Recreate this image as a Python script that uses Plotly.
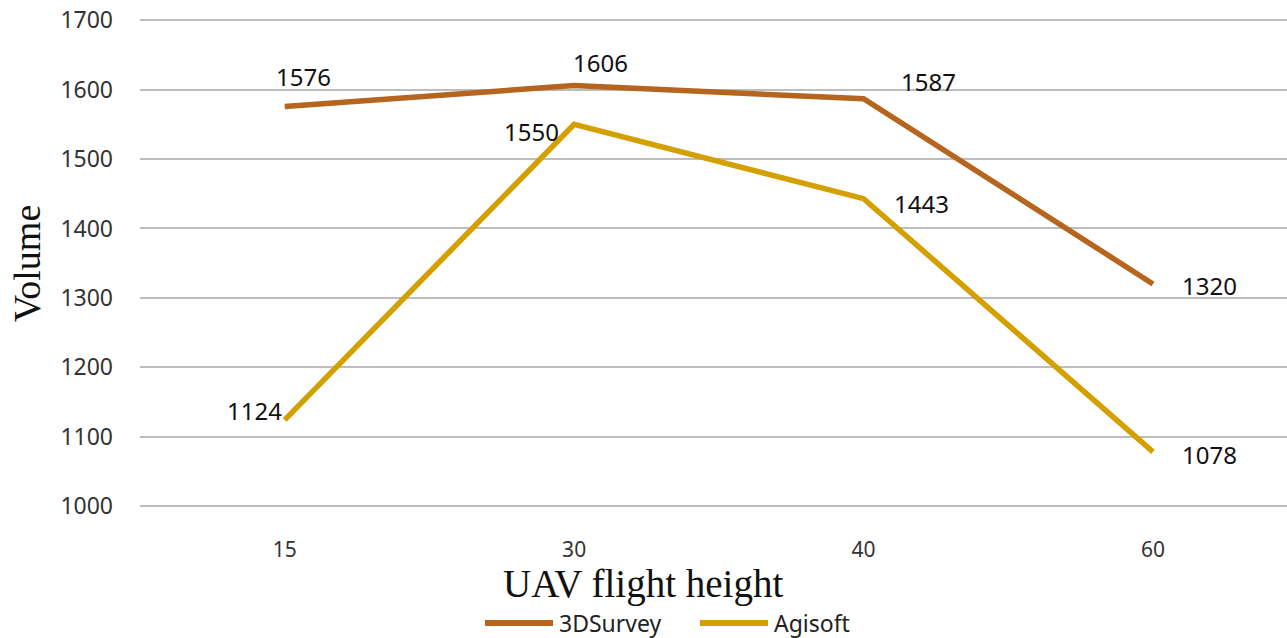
import plotly.graph_objects as go

# Flight heights (m) and computed volumes for each software
heights = ["15", "30", "40", "60"]
survey3d = [1576, 1606, 1587, 1320]
agisoft = [1124, 1550, 1443, 1078]
y_ticks = [1000, 1100, 1200, 1300, 1400, 1500, 1600, 1700]

c_survey = "#B5651D"
c_agi = "#D4A000"
sans = "Noto Sans, Open Sans, sans-serif"
serif = "Liberation Serif, Times New Roman, serif"

fig = go.Figure()
fig.add_trace(go.Scatter(x=heights, y=survey3d, mode="lines", name="3DSurvey",
                         line=dict(color=c_survey, width=5.5)))
fig.add_trace(go.Scatter(x=heights, y=agisoft, mode="lines", name="Agisoft",
                         line=dict(color=c_agi, width=5.5)))

# Data labels: (xanchor, xshift, yshift) per point
survey_pos = [("center", 19, 30), ("center", 26, 23), ("left", 35, 17), ("left", 27, -2)]
agi_pos = [("right", -1, 9), ("right", -13, -7), ("left", 28, -5), ("left", 27, -3)]
lab_font = dict(family=sans, size=24, color="#111111")
for vals, pos in ((survey3d, survey_pos), (agisoft, agi_pos)):
    for i, (v, (xa, xs, ys)) in enumerate(zip(vals, pos)):
        fig.add_annotation(x=i, y=v, xref="x", yref="y", text=str(v), showarrow=False,
                           xanchor=xa, yanchor="middle", xshift=xs, yshift=ys, font=lab_font)

# Pixel helpers for items placed below the plot area
left, width_px, top, h_px = 140, 1147, 19, 489
def px_x(p):
    return (p - left) / width_px
def px_y(p):
    return (top + h_px - p) / h_px

# X axis title
fig.add_annotation(xref="paper", yref="paper", x=px_x(643), y=px_y(584),
                   text="UAV flight height", showarrow=False, xanchor="center",
                   yanchor="middle", font=dict(family=serif, size=39, color="#111111"))

# Legend
legend_items = [("3DSurvey", c_survey, 485), ("Agisoft", c_agi, 700)]
for name, col, x0 in legend_items:
    fig.add_shape(type="line", xref="paper", yref="paper",
                  x0=px_x(x0), x1=px_x(x0 + 68), y0=px_y(623), y1=px_y(623),
                  line=dict(color=col, width=6))
    fig.add_annotation(xref="paper", yref="paper", x=px_x(x0 + 72), y=px_y(623),
                       text=name, showarrow=False, xanchor="left", yanchor="middle",
                       font=dict(family=sans, size=23, color="#222222"))

fig.update_layout(
    width=1287, height=638,
    margin=dict(l=140, r=0, t=19, b=130),
    paper_bgcolor="white", plot_bgcolor="white",
    showlegend=False,
    xaxis=dict(type="category", range=[-0.5, 3.463], showgrid=False, zeroline=False,
               showline=False, ticks="", ticklabelstandoff=27, automargin=False,
               tickfont=dict(family=sans, size=21, color="#333333")),
    yaxis=dict(range=[997, 1702], tickvals=y_ticks, showgrid=True, gridcolor="#BDBDBD",
               gridwidth=2, zeroline=False, showline=False, ticks="", ticklabelstandoff=26,
               automargin=False,
               tickfont=dict(family=sans, size=23, color="#333333"),
               title=dict(text="Volume", standoff=8,
                          font=dict(family=serif, size=38, color="#111111"))),
)

fig.write_html("out.html")
